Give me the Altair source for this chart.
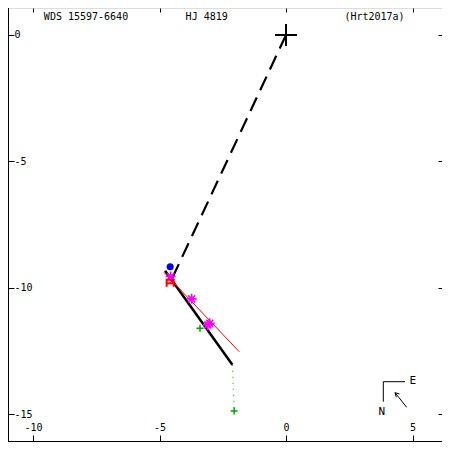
import altair as alt
import pandas as pd

# ---- data ----
primary_x = [0.0]
primary_y = [0.0]
dash_x = [0.0, -4.51]
dash_y = [0.0, -9.64]
orbit_x = [-4.78, -2.12]
orbit_y = [-9.32, -13.04]
node_x = [-4.82, -1.85]
node_y = [-9.39, -12.52]
resid_x = [-2.12, -2.05]
resid_y = [-13.04, -14.86]
plus_x = [-3.40, -2.05]
plus_y = [-11.59, -14.86]
star_x = [-4.56, -3.73, -3.09, -3.02]
star_y = [-9.55, -10.43, -11.46, -11.40]
blue_x = [-4.58]
blue_y = [-9.16]
h_x = [-4.58]
h_y = [-9.81]
x_ticks = [-10, -5, 0, 5]
y_ticks = [0, -5, -10, -15]
titles = ["WDS 15597-6640", "HJ 4819", "(Hrt2017a)"]

W, H = 434, 434
FONT = "DejaVu Sans Mono"

xs = alt.Scale(domain=[-10.99, 6.166], nice=False, zero=False)
ys = alt.Scale(domain=[-16.09, 1.067], nice=False, zero=False)


def pts(xv, yv):
    return pd.DataFrame({"x": xv, "y": yv, "i": list(range(len(xv)))})


bottom_axis = alt.Axis(values=x_ticks, orient="bottom", offset=-7, tickSize=7, domain=False,
                       grid=False, labelPadding=-15, labelBaseline="middle", labelFlush=False,
                       labelExpr="'' + datum.value", labelFont=FONT, labelFontSize=10,
                       labelColor="black", tickColor="black", title=None)
left_axis = alt.Axis(values=y_ticks, orient="left", offset=-6, tickSize=6, domain=False,
                     grid=False, labelPadding=-6, labelAlign="left", labelBaseline="middle",
                     labelFlush=False, labelExpr="'' + datum.value", labelFont=FONT,
                     labelFontSize=10, labelColor="black", tickColor="black", title=None)
top_axis = alt.Axis(values=x_ticks, orient="top", offset=-4, tickSize=4, domain=False,
                    grid=False, labels=False, tickColor="black", title=None)
right_axis = alt.Axis(values=y_ticks, orient="right", offset=-4, tickSize=4, domain=False,
                      grid=False, labels=False, tickColor="black", title=None)


def enc(chart, xaxis=None, yaxis=None):
    return chart.encode(
        x=alt.X("x:Q", scale=xs, axis=xaxis),
        y=alt.Y("y:Q", scale=ys, axis=yaxis),
    )


dash = enc(alt.Chart(pts(dash_x, dash_y)).mark_line(
    color="black", strokeWidth=2.2, strokeDash=[15, 8]), bottom_axis, left_axis).encode(order="i:O")
orbit = enc(alt.Chart(pts(orbit_x, orbit_y)).mark_line(
    color="black", strokeWidth=2.5), top_axis, right_axis).encode(order="i:O")
node = enc(alt.Chart(pts(node_x, node_y)).mark_line(color="#ff0000", strokeWidth=1)).encode(order="i:O")
resid = enc(alt.Chart(pts(resid_x, resid_y)).mark_line(
    color="#00a000", strokeWidth=1, strokeDash=[1, 5])).encode(order="i:O")

plus_path = "M-1,0L1,0M0,-1L0,1"
star_path = "M-1,0L1,0M0,-1L0,1M-0.7,-0.7L0.7,0.7M-0.7,0.7L0.7,-0.7"
h_path = "M-1,1L-1,-1L1,-1L1,1M-1,0L1,0"

primary = enc(alt.Chart(pts(primary_x, primary_y)).mark_point(
    shape=plus_path, size=484, stroke="black", strokeWidth=2, filled=False, opacity=1))
plus = enc(alt.Chart(pts(plus_x, plus_y)).mark_point(
    shape=plus_path, size=49, stroke="#00a000", strokeWidth=1.5, filled=False, opacity=1))
stars = enc(alt.Chart(pts(star_x, star_y)).mark_point(
    shape=star_path, size=100, stroke="#ff00ff", strokeWidth=1.6, filled=False, opacity=1))
blue = enc(alt.Chart(pts(blue_x, blue_y)).mark_point(
    shape="circle", size=50, fill="#0000ff", filled=True, strokeWidth=0, opacity=1))
hmark = enc(alt.Chart(pts(h_x, h_y)).mark_point(
    shape=h_path, size=49, stroke="#ff0000", strokeWidth=2, filled=False, opacity=1))

# frame (left and bottom edges)
frame_df = pd.DataFrame({"k": [0]})
left_edge = alt.Chart(frame_df).mark_rule(color="black", strokeWidth=1).encode(
    x=alt.value(0.5), y=alt.value(0), y2=alt.value(H))
bottom_edge = alt.Chart(frame_df).mark_rule(color="black", strokeWidth=1).encode(
    x=alt.value(0), x2=alt.value(W), y=alt.value(H - 0.5))

# titles
title_layers = []
for t, px in zip(titles, [78, 198.7, 366.5]):
    title_layers.append(
        alt.Chart(pd.DataFrame({"t": [t]})).mark_text(
            font=FONT, fontSize=10, color="black", align="center", baseline="middle"
        ).encode(text="t:N", x=alt.value(px), y=alt.value(8.7))
    )

# compass
compass_df = pd.DataFrame({"k": [0]})
c_h = alt.Chart(compass_df).mark_rule(color="black", strokeWidth=1).encode(
    x=alt.value(375.3), x2=alt.value(397), y=alt.value(373.7))
c_v = alt.Chart(compass_df).mark_rule(color="black", strokeWidth=1).encode(
    x=alt.value(375.3), y=alt.value(373.7), y2=alt.value(393.7))
c_arrow = alt.Chart(compass_df).mark_rule(color="black", strokeWidth=1).encode(
    x=alt.value(398.7), y=alt.value(399.3), x2=alt.value(387), y2=alt.value(384.7))
c_head1 = alt.Chart(compass_df).mark_rule(color="black", strokeWidth=1).encode(
    x=alt.value(387), y=alt.value(384.7), x2=alt.value(391.5), y2=alt.value(386))
c_head2 = alt.Chart(compass_df).mark_rule(color="black", strokeWidth=1).encode(
    x=alt.value(387), y=alt.value(384.7), x2=alt.value(388.3), y2=alt.value(389.3))
c_e = alt.Chart(pd.DataFrame({"t": ["E"]})).mark_text(
    font=FONT, fontSize=11, color="black", align="center", baseline="middle").encode(
    text="t:N", x=alt.value(404.7), y=alt.value(372.7))
c_n = alt.Chart(pd.DataFrame({"t": ["N"]})).mark_text(
    font=FONT, fontSize=11, color="black", align="center", baseline="middle").encode(
    text="t:N", x=alt.value(373.7), y=alt.value(403.7))

chart = alt.layer(
    dash, orbit, node, resid, primary, plus, stars, blue, hmark,
    left_edge, bottom_edge, *title_layers,
    c_h, c_v, c_arrow, c_head1, c_head2, c_e, c_n,
).resolve_axis(x="independent", y="independent").properties(
    width=W, height=H,
    autosize=alt.AutoSizeParams(type="none"),
    padding=0,
).configure_view(stroke=None, strokeWidth=0).configure_axis(
    domain=False, domainOpacity=0
).configure(background="white")

chart.save("out.html", embed_options={"renderer": "svg", "actions": False})
